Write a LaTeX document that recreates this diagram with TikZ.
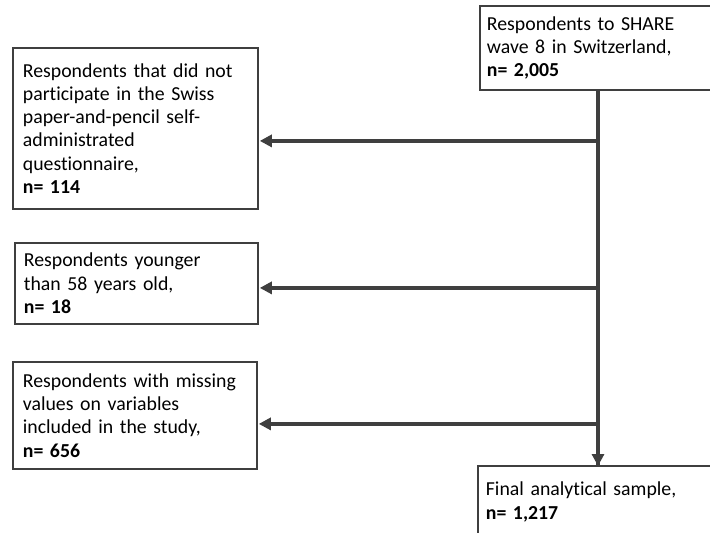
\documentclass[tikz,border=0pt]{standalone}
\usepackage{fontspec}
\setmainfont{Carlito}[Ligatures={NoCommon}]
\usetikzlibrary{arrows.meta}
\definecolor{linegray}{HTML}{3F3F3F}
\begin{document}
\begin{tikzpicture}[x=1pt,y=-1pt,
  box/.style={draw=linegray, line width=1.8pt, anchor=north west, align=left,
    inner xsep=9pt, inner ysep=0pt,
    font=\fontsize{19.8}{23.3}\selectfont, text=black},
  flow/.style={draw=linegray, line width=3.6pt,
    -{Triangle[length=12pt,width=12pt]}}
]
\useasboundingbox (0,0) rectangle (710,533);
\node[box, minimum width=255, minimum height=84, text width=241, inner xsep=5pt] (top) at (479,5)
  {Respondents to SHARE\\wave 8 in Switzerland,\\\textbf{n= 2,005}};
\node[box, minimum width=245, minimum height=161, text width=225, inner xsep=10pt] (b1) at (12,47)
  {Respondents that did not\\participate in the Swiss\\paper-and-pencil self-\\administrated\\questionnaire,\\\textbf{n= 114}};
\node[box, minimum width=243, minimum height=81, text width=225, inner xsep=9pt] (b2) at (14,242)
  {Respondents younger\\than 58 years old,\\\textbf{n= 18}};
\node[box, minimum width=244, minimum height=107, text width=224, inner xsep=10pt] (b3) at (12,361)
  {Respondents with missing\\values on variables\\included in the study,\\\textbf{n= 656}};
\node[box, minimum width=260, minimum height=72, text width=244, inner xsep=8pt] (fin) at (477,465)
  {Final analytical sample,\\\textbf{n= 1,217}};
\coordinate (spine) at (598,0);
\draw[draw=linegray, line width=3.6pt] (top.south -| spine) -- ([yshift=-1pt]fin.north -| spine);
\draw[flow] (top.south -| spine) -- ([yshift=-1pt]fin.north -| spine);
\draw[flow] ([yshift=-12.5pt]b1.east -| spine) -- ([xshift=1pt,yshift=-12.5pt]b1.east);
\draw[flow] ([yshift=-4.5pt]b2.east -| spine) -- ([xshift=1pt,yshift=-4.5pt]b2.east);
\draw[flow] ([yshift=-8.5pt]b3.east -| spine) -- ([xshift=1pt,yshift=-8.5pt]b3.east);
\end{tikzpicture}
\end{document}
